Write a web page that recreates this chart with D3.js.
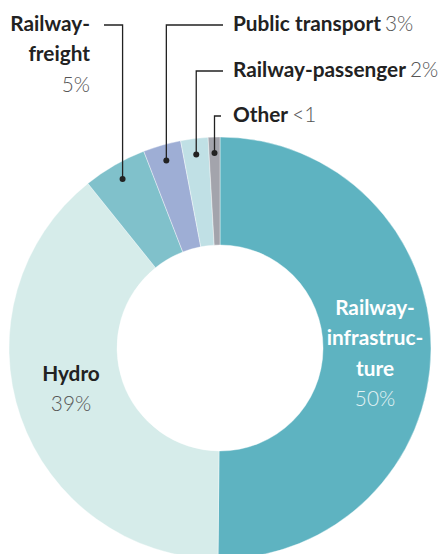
<!DOCTYPE html>
<html>
<head>
<meta charset="utf-8">
<script src="https://cdn.jsdelivr.net/npm/d3@7"></script>
<style>
  html, body { margin: 0; padding: 0; background: #fff; }
  svg { display: block; }
  text { font-family: "Source Sans Pro", Lato, "Noto Sans", sans-serif; }
</style>
</head>
<body>
<svg id="chart" width="441" height="554"></svg>
<script>
// Share of each sector, clockwise from 12 o'clock
const categories = ["Railway-infrastructure", "Hydro", "Railway-freight", "Public transport", "Railway-passenger", "Other"];
const values = [50.3, 39.2, 4.9, 2.9, 2.1, 0.9];
const colors = ["#5eb3c1", "#d6ecea", "#80c1cb", "#9eaed5", "#c0e0e5", "#a3a4ac"];
const valueLabels = values.map(v => v < 1 ? "<1" : Math.round(v) + "%");

const svg = d3.select("#chart");
const cx = 220, cy = 348, outerR = 211, innerR = 103;
const fontSize = 20.8;

const pie = d3.pie().sort(null).value(d => d);
const arcs = pie(values);
const arc = d3.arc().innerRadius(innerR).outerRadius(outerR);

const g = svg.append("g").attr("transform", `translate(${cx},${cy})`);
g.selectAll("path.slice")
  .data(arcs)
  .join("path")
  .attr("class", "slice")
  .attr("d", arc)
  .attr("fill", (d, i) => colors[i])
  .attr("stroke", "#fff")
  .attr("stroke-width", 0.4);

// Leader lines for the small slices: dot inside slice, up to a horizontal elbow
const dotR = 195;
const callouts = [
  { i: 2, elbowY: 25, endX: 104 },
  { i: 3, elbowY: 25, endX: 223 },
  { i: 4, elbowY: 71, endX: 223 },
  { i: 5, elbowY: 116, endX: 221 }
];
callouts.forEach(c => {
  const a = arcs[c.i];
  const mid = (a.startAngle + a.endAngle) / 2;
  const px = cx + dotR * Math.sin(mid);
  const py = cy - dotR * Math.cos(mid);
  svg.append("path")
    .attr("d", `M${px},${py} V${c.elbowY} H${c.endX}`)
    .attr("fill", "none")
    .attr("stroke", "#222")
    .attr("stroke-width", 1.3);
  svg.append("circle").attr("cx", px).attr("cy", py).attr("r", 3).attr("fill", "#222");
});

const boldStyle = t => t.attr("font-weight", 700).attr("font-size", fontSize).attr("fill", "#222");
const lightStyle = t => t.attr("font-weight", 300).attr("font-size", fontSize).attr("fill", "#555");

// Railway-freight label (right aligned, left of its leader)
boldStyle(svg.append("text").attr("x", 90).attr("y", 31).attr("text-anchor", "end").text("Railway-"));
boldStyle(svg.append("text").attr("x", 90).attr("y", 61).attr("text-anchor", "end").text("freight"));
lightStyle(svg.append("text").attr("x", 90).attr("y", 92).attr("text-anchor", "end").text(valueLabels[2]));

// Inline labels on the right of the small-slice leaders
[[3, 31], [4, 77], [5, 122]].forEach(([i, y]) => {
  const t = svg.append("text").attr("x", 233).attr("y", y);
  boldStyle(t.append("tspan").text(categories[i]));
  lightStyle(t.append("tspan").attr("dx", 4).text(valueLabels[i]));
});

// Hydro label
boldStyle(svg.append("text").attr("x", 71).attr("y", 381).attr("text-anchor", "middle").text(categories[1]));
lightStyle(svg.append("text").attr("x", 71).attr("y", 411).attr("text-anchor", "middle").text(valueLabels[1]));

// Railway-infrastructure label, hyphenated across lines
["Railway-", "infrastruc-", "ture"].forEach((s, k) => {
  svg.append("text").attr("x", 375).attr("y", 315 + k * 30.3).attr("text-anchor", "middle")
    .attr("font-weight", 700).attr("font-size", fontSize).attr("fill", "#fff").text(s);
});
svg.append("text").attr("x", 375).attr("y", 406).attr("text-anchor", "middle")
  .attr("font-weight", 300).attr("font-size", fontSize).attr("fill", "#e3f2f4").text(valueLabels[0]);
</script>
</body>
</html>
